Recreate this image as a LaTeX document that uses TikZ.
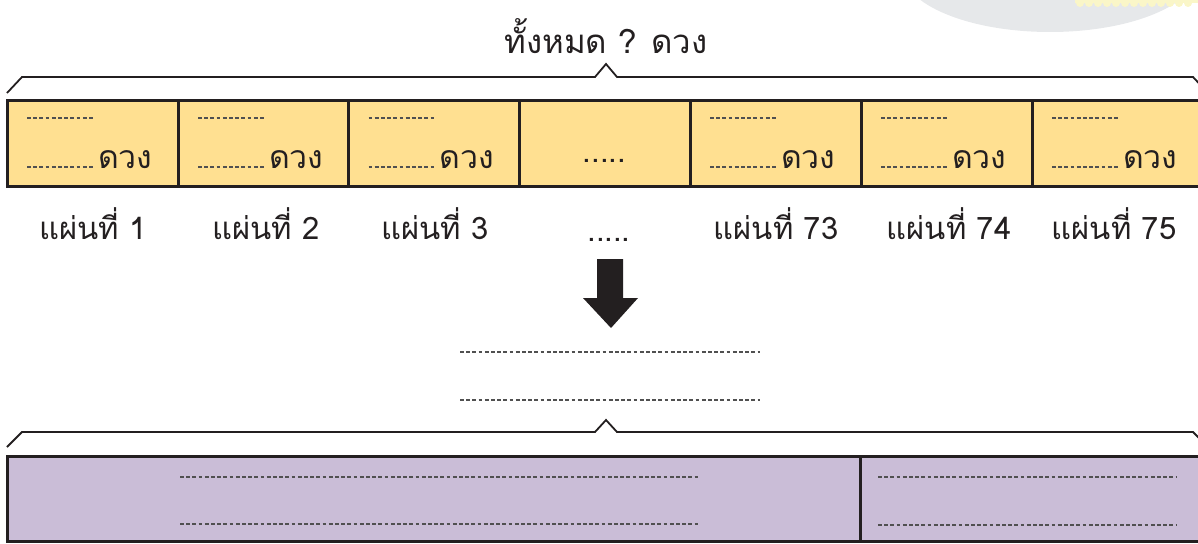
\documentclass[tikz,border=0pt]{standalone}
\usepackage{fontspec}
\newfontfamily\thai[Script=Thai]{Loma}
\definecolor{cellyellow}{RGB}{255,224,145}
\definecolor{cellpurple}{RGB}{202,189,215}
\definecolor{ink}{RGB}{35,31,32}
\definecolor{dashgrey}{RGB}{80,80,80}
\definecolor{paleblob}{RGB}{230,232,234}
\definecolor{paleyel}{RGB}{250,246,200}
\begin{document}
\begin{tikzpicture}[x=1pt,y=-1pt,
  ycell/.style={draw=ink,line width=3pt,fill=cellyellow,minimum width=171pt,minimum height=86pt,inner sep=0pt,outer sep=0pt},
  pcell/.style={draw=ink,line width=3pt,fill=cellpurple,inner sep=0pt,outer sep=0pt},
  brace/.style={draw=ink,line width=1.8pt,line join=miter},
  fill-line/.style={draw=dashgrey,line width=1.3pt,dash pattern=on 3.8pt off 2.4pt},
  lbl/.style={font=\thai\fontsize{31}{34}\selectfont,text=ink,inner sep=0pt,anchor=base},
  unit/.style={font=\thai\fontsize{32}{35}\selectfont,text=ink,inner sep=0pt,anchor=base west},
]
\useasboundingbox (0,0) rectangle (1198,543);
\begin{scope}
\clip (0,0) rectangle (1198,543);
% decorative blob top right
\fill[paleblob] (1050,-30) ellipse (148pt and 62pt);
\fill[paleyel] (1075,-5) rectangle (1198,3);
\foreach \i in {0,...,12} {\fill[paleyel] (1080+\i*9,3) circle (4pt);}
% title
\node[font=\thai\fontsize{33}{36}\selectfont,text=ink,inner sep=0pt,anchor=base] (title) at (606,53) {ทั้งหมด ? ดวง};
% top brace
\draw[brace] (7,93) -- (22,77) -- (595,77) -- (606,64) -- (617,77) -- (1193,77) -- (1208,93);
% yellow cells
\foreach \n/\cx in {1/92.5,2/263.5,3/434,4/604.5,5/775.5,6/946.5,7/1117.5} {
  \node[ycell] (c\n) at (\cx,143) {};
}
\foreach \n in {1,2,3,5,6,7} {
  \draw[fill-line] ([xshift=20pt,yshift=-18pt]c\n.north west) -- ++(68pt,0);
  \draw[fill-line] ([xshift=20pt,yshift=19pt]c\n.south west) -- ++(68pt,0);
  \node[unit] (u\n) at ([xshift=91pt,yshift=18pt]c\n.south west) {ดวง};
}
\node[lbl] (mid) at (604.5,162) {.....};
% labels
\node[lbl] (l1) at (93,239) {แผ่นที่ 1};
\node[lbl] (l2) at (266,239) {แผ่นที่ 2};
\node[lbl] (l3) at (435,239) {แผ่นที่ 3};
\node[lbl] (l4) at (609,241) {.....};
\node[lbl] (l5) at (776,239) {แผ่นที่ 73};
\node[lbl] (l6) at (949,239) {แผ่นที่ 74};
\node[lbl] (l7) at (1114,239) {แผ่นที่ 75};
% arrow
\fill[ink] (597,259) -- (623,259) -- (623,298) -- (638,298) -- (611,328) -- (583,298) -- (597,298) -- cycle;
% middle fill lines
\coordinate (m1a) at (460,352); \coordinate (m1b) at (760,352);
\coordinate (m2a) at (460,400); \coordinate (m2b) at (760,400);
\draw[fill-line] (m1a) -- (m1b);
\draw[fill-line] (m2a) -- (m2b);
% bottom brace
\draw[brace] (7,447) -- (22,432) -- (595,432) -- (606,420) -- (617,432) -- (1193,432) -- (1208,447);
% purple row
\node[pcell,minimum width=853pt,minimum height=85pt] (p1) at (433.5,498.5) {};
\node[pcell,minimum width=350pt,minimum height=85pt] (p2) at (1035,498.5) {};
\draw[fill-line] (180,477) -- (700,477);
\draw[fill-line] (180,524) -- (700,524);
\draw[fill-line] (878,477) -- (1177,477);
\draw[fill-line] (878,525) -- (1177,525);
\end{scope}
\end{tikzpicture}
\end{document}
